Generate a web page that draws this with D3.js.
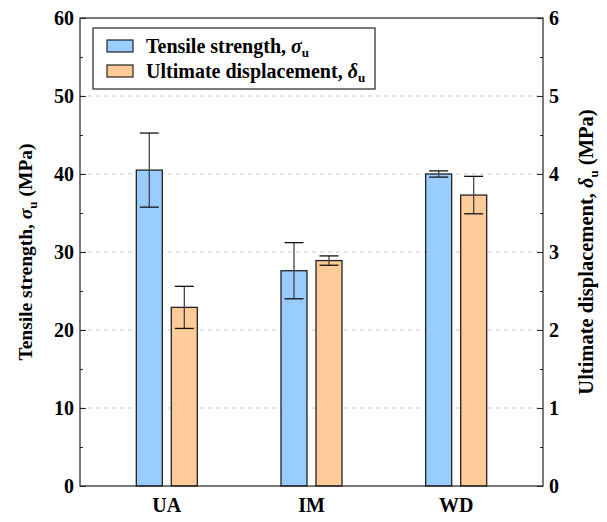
<!DOCTYPE html>
<html>
<head>
<meta charset="utf-8">
<style>
  body { margin: 0; background: #fff; }
  text { font-family: "Liberation Serif", "Times New Roman", serif; font-weight: bold; }
</style>
</head>
<body>
<script src="https://d3js.org/d3.v7.min.js"></script>
<div id="chart"></div>
<script>
// data
var categories = ["UA", "IM", "WD"];
var strength = [40.5, 27.6, 40.0];        // MPa, left axis
var strengthErr = [4.75, 3.6, 0.4];
var displacement = [2.29, 2.89, 3.73];    // right axis
var displacementErr = [0.27, 0.06, 0.24];
var leftTicks = [0, 10, 20, 30, 40, 50, 60];
var rightTicks = [0, 1, 2, 3, 4, 5, 6];

var width = 607, height = 522;
var pLeft = 80, pRight = 543, pTop = 18, pBottom = 486;

var svg = d3.select("#chart").append("svg")
    .attr("width", width)
    .attr("height", height);

var x = d3.scalePoint().domain(categories).range([pLeft, pRight]).padding(0.6);
var yL = d3.scaleLinear().domain([0, 60]).range([pBottom, pTop]);
var yR = d3.scaleLinear().domain([0, 6]).range([pBottom, pTop]);

var barW = 26, off = 17.5, capW = 19;

// grid lines
svg.append("g").selectAll("line")
  .data(leftTicks.slice(1, -1))
  .enter().append("line")
    .attr("x1", pLeft).attr("x2", pRight)
    .attr("y1", function(d) { return yL(d); })
    .attr("y2", function(d) { return yL(d); })
    .attr("stroke", "#c8c8c8")
    .attr("stroke-dasharray", "4,4")
    .attr("stroke-width", 1);

// bars
var series = [
  { vals: strength, err: strengthErr, y: yL, dx: -off, fill: "#99ccff" },
  { vals: displacement, err: displacementErr, y: yR, dx: off, fill: "#ffcc99" }
];

series.forEach(function(s) {
  var g = svg.append("g");
  g.selectAll("rect")
    .data(categories)
    .enter().append("rect")
      .attr("x", function(d) { return x(d) + s.dx - barW / 2; })
      .attr("y", function(d, i) { return s.y(s.vals[i]); })
      .attr("width", barW)
      .attr("height", function(d, i) { return pBottom - s.y(s.vals[i]); })
      .attr("fill", s.fill)
      .attr("stroke", "#222")
      .attr("stroke-width", 1.3);

  categories.forEach(function(c, i) {
    var cx = x(c) + s.dx;
    var hi = s.y(s.vals[i] + s.err[i]), lo = s.y(s.vals[i] - s.err[i]);
    g.append("line").attr("x1", cx).attr("x2", cx).attr("y1", hi).attr("y2", lo)
      .attr("stroke", "#444").attr("stroke-width", 1.3);
    [hi, lo].forEach(function(yy) {
      g.append("line").attr("x1", cx - capW / 2).attr("x2", cx + capW / 2)
        .attr("y1", yy).attr("y2", yy)
        .attr("stroke", "#111").attr("stroke-width", 1.3);
    });
  });
});

// frame
svg.append("rect")
  .attr("x", pLeft).attr("y", pTop)
  .attr("width", pRight - pLeft).attr("height", pBottom - pTop)
  .attr("fill", "none").attr("stroke", "#222").attr("stroke-width", 1.2);

// axes (ticks pointing inward)
var axL = d3.axisLeft(yL).tickValues(leftTicks).tickSize(-6).tickPadding(6).tickFormat(d3.format("d"));
var axLm = d3.axisLeft(yL).tickValues(d3.range(5, 60, 10)).tickSize(-3).tickFormat("");
var axR = d3.axisRight(yR).tickValues(rightTicks).tickSize(-6).tickPadding(6).tickFormat(d3.format("d"));
var axRm = d3.axisRight(yR).tickValues(d3.range(0.5, 6, 1)).tickSize(-3).tickFormat("");

[[axL, pLeft], [axLm, pLeft], [axR, pRight], [axRm, pRight]].forEach(function(a) {
  var g = svg.append("g").attr("transform", "translate(" + a[1] + ",0)").call(a[0]);
  g.select(".domain").remove();
  g.selectAll("line").attr("stroke", "#222");
  g.selectAll("text")
    .attr("font-family", "Liberation Serif, serif")
    .attr("font-weight", "bold")
    .attr("font-size", 20)
    .attr("fill", "#000");
});

// category labels
svg.append("g").selectAll("text")
  .data(categories)
  .enter().append("text")
    .attr("x", function(d) { return x(d); })
    .attr("y", 512)
    .attr("text-anchor", "middle")
    .attr("font-size", 20)
    .text(function(d) { return d; });

// axis titles
var tl = svg.append("text")
  .attr("transform", "translate(32," + ((pTop + pBottom) / 2) + ") rotate(-90)")
  .attr("text-anchor", "middle")
  .attr("font-size", 19.5);
tl.append("tspan").text("Tensile strength, ");
tl.append("tspan").attr("font-style", "italic").text("σ");
tl.append("tspan").attr("font-size", 13).attr("dy", 5).text("u");
tl.append("tspan").attr("dy", -5).text(" (MPa)");

var tr = svg.append("text")
  .attr("transform", "translate(593," + ((pTop + pBottom) / 2) + ") rotate(-90)")
  .attr("text-anchor", "middle")
  .attr("font-size", 20.5);
tr.append("tspan").text("Ultimate displacement, ");
tr.append("tspan").attr("font-style", "italic").text("δ");
tr.append("tspan").attr("font-size", 13).attr("dy", 5).text("u");
tr.append("tspan").attr("dy", -5).text(" (MPa)");

// legend
var lg = svg.append("g");
lg.append("rect").attr("x", 93).attr("y", 28).attr("width", 282).attr("height", 61)
  .attr("fill", "#fff").attr("stroke", "#222").attr("stroke-width", 1.2);
var legendItems = [
  { fill: "#99ccff", label: "Tensile strength, ", sym: "σ" },
  { fill: "#ffcc99", label: "Ultimate displacement, ", sym: "δ" }
];
legendItems.forEach(function(it, i) {
  var yy = 40 + i * 25;
  lg.append("rect").attr("x", 107).attr("y", yy).attr("width", 26).attr("height", 12)
    .attr("fill", it.fill).attr("stroke", "#222").attr("stroke-width", 1.2);
  var t = lg.append("text").attr("x", 146).attr("y", yy + 13).attr("font-size", 20);
  t.append("tspan").text(it.label);
  t.append("tspan").attr("font-style", "italic").text(it.sym);
  t.append("tspan").attr("font-size", 13).attr("dy", 4).text("u");
});
</script>
</body>
</html>
